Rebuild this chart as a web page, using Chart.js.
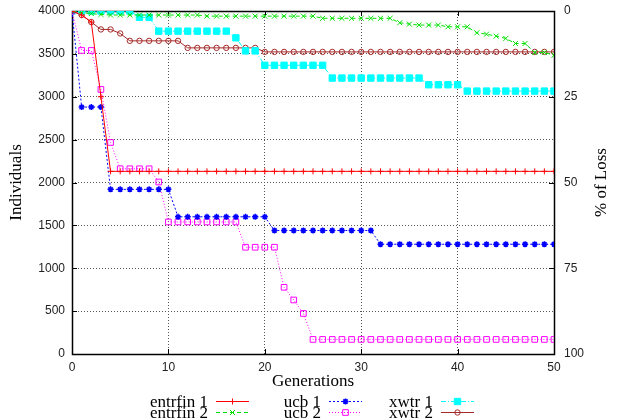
<!DOCTYPE html>
<html>
<head>
<meta charset="utf-8">
<script src="https://cdn.jsdelivr.net/npm/chart.js"></script>
<style>
  html, body { margin: 0; padding: 0; background: #fff; }
  #myChart { display: block; }
</style>
</head>
<body>
<canvas id="myChart" width="618" height="419"></canvas>
<script>
// values (individuals per generation)
const generations = [0, 1, 2, 3, 4, 5, 6, 7, 8, 9, 10, 11, 12, 13, 14, 15, 16, 17, 18, 19, 20,
    21, 22, 23, 24, 25, 26, 27, 28, 29, 30, 31, 32, 33, 34, 35, 36, 37, 38, 39, 40,
    41, 42, 43, 44, 45, 46, 47, 48, 49, 50];

const entrfin1 = [4000, 3953, 3871, 3000, 2130, 2130, 2130, 2130, 2130, 2130, 2130,
    2130, 2130, 2130, 2130, 2130, 2130, 2130, 2130, 2130, 2130,
    2130, 2130, 2130, 2130, 2130, 2130, 2130, 2130, 2130, 2130,
    2130, 2130, 2130, 2130, 2130, 2130, 2130, 2130, 2130, 2130,
    2130, 2130, 2130, 2130, 2130, 2130, 2130, 2130, 2130, 2130];

const entrfin2 = [4000, 3980, 3970, 3960, 3953, 3953, 3953, 3953, 3953, 3953, 3953,
    3953, 3953, 3953, 3940, 3940, 3940, 3940, 3940, 3940, 3940,
    3940, 3940, 3940, 3940, 3940, 3915, 3915, 3915, 3915, 3915,
    3915, 3915, 3915, 3863, 3847, 3836, 3836, 3836, 3816, 3816,
    3816, 3746, 3730, 3707, 3680, 3621, 3621, 3516, 3516, 3484];

const ucb1 = [4000, 2880, 2880, 2880, 1920, 1920, 1920, 1920, 1920, 1920, 1920,
    1600, 1600, 1600, 1600, 1600, 1600, 1600, 1600, 1600, 1600,
    1440, 1440, 1440, 1440, 1440, 1440, 1440, 1440, 1440, 1440,
    1440, 1280, 1280, 1280, 1280, 1280, 1280, 1280, 1280, 1280,
    1280, 1280, 1280, 1280, 1280, 1280, 1280, 1280, 1280, 1280];

const ucb2 = [4000, 3540, 3540, 3085, 2467, 2160, 2160, 2160, 2160, 2006, 1540,
    1540, 1540, 1540, 1540, 1540, 1540, 1540, 1245, 1245, 1245,
    1245, 778, 630, 473, 170, 170, 170, 170, 170, 170,
    170, 170, 170, 170, 170, 170, 170, 170, 170, 170,
    170, 170, 170, 170, 170, 170, 170, 170, 170, 170];

const xwtr1 = [4000, 4000, 4000, 4000, 4000, 4000, 4000, 3926, 3926, 3765, 3765,
    3765, 3765, 3765, 3765, 3765, 3765, 3687, 3535, 3535, 3367,
    3367, 3367, 3367, 3367, 3367, 3367, 3218, 3218, 3218, 3218,
    3218, 3218, 3218, 3218, 3218, 3218, 3140, 3140, 3140, 3140,
    3066, 3066, 3066, 3066, 3066, 3066, 3066, 3066, 3066, 3066];

const xwtr2 = [4000, 3953, 3871, 3785, 3785, 3738, 3652, 3652, 3652, 3652, 3652,
    3652, 3570, 3570, 3570, 3570, 3570, 3570, 3570, 3570, 3523,
    3523, 3523, 3523, 3523, 3523, 3523, 3523, 3523, 3523, 3523,
    3523, 3523, 3523, 3523, 3523, 3523, 3523, 3523, 3523, 3523,
    3523, 3523, 3523, 3523, 3523, 3523, 3523, 3523, 3523, 3523];

const seriesLabels = ['entrfin 1', 'entrfin 2', 'ucb 1', 'ucb 2', 'xwtr 1', 'xwtr 2'];
const xTickStep = 10;
const yTickStep = 500;
const lossTickStep = 25;

const tickFont = { family: "'Liberation Sans', Arial, sans-serif", size: 12 };
const serifFont = "17px 'Liberation Serif', 'Times New Roman', serif";

function points(values) {
    return generations.map((g, i) => ({ x: g, y: values[i] }));
}

// gnuplot prints plain numbers, no thousands separator
const plainTick = v => String(v);

const data = {
    datasets: [{
        label: seriesLabels[0],
        data: points(entrfin1),
        borderColor: '#ff0000',
        borderWidth: 1,
        pointStyle: 'cross',
        pointRadius: 3,
        pointBorderColor: '#ff0000',
        pointBorderWidth: 1
    }, {
        label: seriesLabels[1],
        data: points(entrfin2),
        borderColor: '#00e000',
        borderWidth: 1,
        borderDash: [4, 3],
        pointStyle: 'crossRot',
        pointRadius: 3.5,
        pointBorderColor: '#00e000',
        pointBorderWidth: 1
    }, {
        label: seriesLabels[2],
        data: points(ucb1),
        borderColor: '#0000ff',
        borderWidth: 1,
        borderDash: [2, 2],
        pointStyle: 'star',
        pointRadius: 3,
        pointBorderColor: '#0000ff',
        pointBorderWidth: 1.5
    }, {
        label: seriesLabels[3],
        data: points(ucb2),
        borderColor: '#ff00ff',
        borderWidth: 1,
        borderDash: [1, 2],
        pointStyle: 'rect',
        pointRadius: 4,
        pointBackgroundColor: 'rgba(0,0,0,0)',
        pointBorderColor: '#ff00ff',
        pointBorderWidth: 1
    }, {
        label: seriesLabels[4],
        data: points(xwtr1),
        borderColor: '#00ffff',
        borderWidth: 1,
        borderDash: [5, 2, 1, 2],
        pointStyle: 'rect',
        pointRadius: 4.5,
        pointBackgroundColor: '#00ffff',
        pointBorderColor: '#00ffff',
        pointBorderWidth: 1
    }, {
        label: seriesLabels[5],
        data: points(xwtr2),
        borderColor: '#a52a2a',
        borderWidth: 1,
        pointStyle: 'circle',
        pointRadius: 2.7,
        pointBackgroundColor: 'rgba(0,0,0,0)',
        pointBorderColor: '#a52a2a',
        pointBorderWidth: 1
    }]
};

// frame, inward ticks, axis titles and the gnuplot style legend
const gnuplotBits = {
    id: 'gnuplotBits',
    beforeDatasetsDraw(chart) {
        const { ctx, chartArea: a, scales } = chart;
        ctx.save();
        ctx.strokeStyle = '#000';
        ctx.lineWidth = 1;
        ctx.setLineDash([]);
        ctx.beginPath();
        scales.x.ticks.forEach(t => {
            const px = Math.round(scales.x.getPixelForValue(t.value)) + 0.5;
            ctx.moveTo(px, a.bottom); ctx.lineTo(px, a.bottom - 5);
            ctx.moveTo(px, a.top); ctx.lineTo(px, a.top + 5);
        });
        scales.y.ticks.forEach(t => {
            const py = Math.round(scales.y.getPixelForValue(t.value)) + 0.5;
            ctx.moveTo(a.left, py); ctx.lineTo(a.left + 5, py);
        });
        scales.y2.ticks.forEach(t => {
            const py = Math.round(scales.y2.getPixelForValue(t.value)) + 0.5;
            ctx.moveTo(a.right, py); ctx.lineTo(a.right - 5, py);
        });
        ctx.stroke();
        ctx.lineWidth = 1.5;
        ctx.strokeRect(Math.round(a.left) + 0.5, Math.round(a.top) + 0.5,
            Math.round(a.right - a.left), Math.round(a.bottom - a.top));
        ctx.restore();
    },
    afterDraw(chart) {
        const { ctx, chartArea: a } = chart;
        ctx.save();
        ctx.fillStyle = '#000';
        ctx.font = serifFont;
        ctx.textAlign = 'center';
        ctx.textBaseline = 'middle';

        ctx.fillText('Generations', (a.left + a.right) / 2, 382);

        ctx.save();
        ctx.translate(17, (a.top + a.bottom) / 2);
        ctx.rotate(-Math.PI / 2);
        ctx.fillText('Individuals', 0, 0);
        ctx.restore();

        ctx.save();
        ctx.translate(602, (a.top + a.bottom) / 2);
        ctx.rotate(-Math.PI / 2);
        ctx.fillText('% of Loss', 0, 0);
        ctx.restore();

        // legend: 3 columns, 2 rows, text right aligned before the sample
        const colEnds = [208, 321, 433];
        const rowYs = [401.5, 412.5];
        ctx.textAlign = 'right';
        chart.data.datasets.forEach((ds, i) => {
            const col = Math.floor(i / 2);
            const row = i % 2;
            const xEnd = colEnds[col];
            const y = rowYs[row];
            ctx.fillStyle = '#000';
            ctx.fillText(ds.label, xEnd, y + 1);
            const x1 = xEnd + 8, x2 = xEnd + 41;
            ctx.save();
            ctx.strokeStyle = ds.borderColor;
            ctx.lineWidth = ds.borderWidth;
            ctx.setLineDash(ds.borderDash || []);
            ctx.beginPath();
            ctx.moveTo(x1, y);
            ctx.lineTo(x2, y);
            ctx.stroke();
            ctx.setLineDash([]);
            if (Chart.helpers && Chart.helpers.drawPoint) {
                ctx.strokeStyle = ds.pointBorderColor;
                ctx.fillStyle = ds.pointBackgroundColor || ds.pointBorderColor;
                ctx.lineWidth = ds.pointBorderWidth;
                Chart.helpers.drawPoint(ctx, {
                    pointStyle: ds.pointStyle,
                    radius: ds.pointRadius,
                    rotation: 0,
                    borderWidth: ds.pointBorderWidth
                }, (x1 + x2) / 2, y);
            }
            ctx.restore();
        });
        ctx.restore();
    }
};

const gridOpts = {
    color: '#555',
    lineWidth: 1,
    drawTicks: false
};

// the tick padding also gets added above and below a vertical axis, drop that
function fixVertical(width) {
    return s => {
        s.width = width;
        s.paddingTop = 7;
        s.paddingBottom = 7;
    };
}

const config = {
    type: 'line',
    data,
    options: {
        responsive: false,
        animation: false,
        events: [],
        layout: { autoPadding: false, padding: { top: 11, left: 0, right: 0, bottom: 0 } },
        elements: { line: { tension: 0 } },
        plugins: {
            legend: { display: false },
            tooltip: { enabled: false }
        },
        scales: {
            x: {
                type: 'linear',
                min: 0,
                max: 50,
                ticks: { stepSize: xTickStep, padding: 6, color: '#222', font: tickFont, maxRotation: 0, callback: plainTick },
                grid: gridOpts,
                border: { display: false, dash: [1, 2] },
                afterFit: s => { s.height = 65; }
            },
            y: {
                position: 'left',
                min: 0,
                max: 4000,
                ticks: { stepSize: yTickStep, padding: 7, color: '#222', font: tickFont, callback: plainTick },
                grid: gridOpts,
                border: { display: false, dash: [1, 2] },
                afterFit: fixVertical(72)
            },
            y2: {
                position: 'right',
                min: 0,
                max: 100,
                reverse: true,
                ticks: { stepSize: lossTickStep, padding: 10, color: '#222', font: tickFont, callback: plainTick },
                grid: { display: false, drawTicks: false },
                border: { display: false },
                afterFit: fixVertical(64)
            }
        }
    },
    plugins: [gnuplotBits]
};

const myChart = new Chart(document.getElementById('myChart'), config);
</script>
</body>
</html>
